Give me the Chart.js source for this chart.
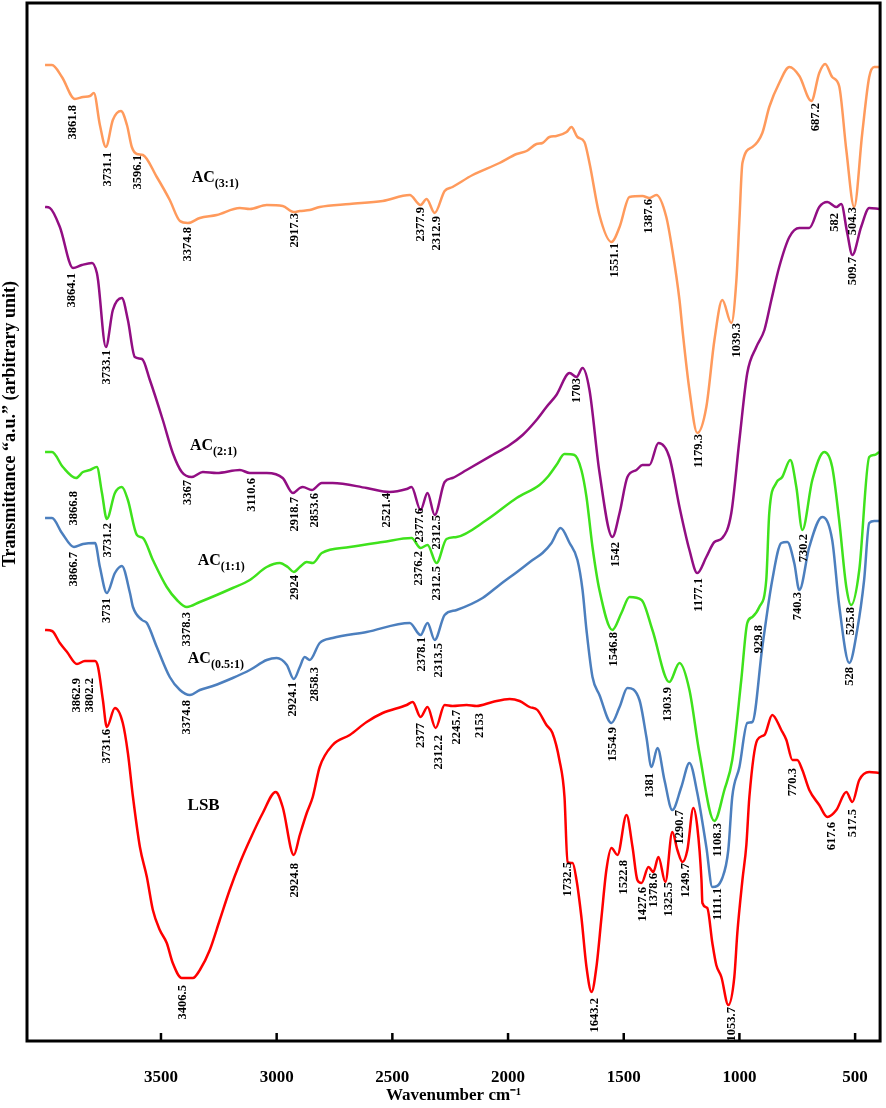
<!DOCTYPE html>
<html><head><meta charset="utf-8">
<script src="https://cdn.jsdelivr.net/npm/chart.js@4.4.0/dist/chart.umd.min.js"></script>
<style>html,body{margin:0;padding:0;background:#fff}canvas{display:block}</style>
</head><body>
<canvas id="c" width="886" height="1108"></canvas>
<script>
// ---- data (wavenumber cm-1, transmittance a.u.) ----
const wnAC31 = [4001,3971,3928,3872,3837,3807,3790,3764,3738,3708,3673,3647,3626,3604,3578,3518,3462,3418,3384,3332,3259,3159,3116,3043,2974,2926,2900,2857,2814,2684,2542,2425,2378,2352,2317,2274,2240,2153,2037,1963,1920,1877,1851,1821,1791,1747,1726,1700,1670,1648,1605,1553,1518,1475,1419,1389,1359,1316,1290,1259,1246,1216,1182,1143,1108,1074,1035,1013,1000,987,944,901,871,828,784,741,689,655,629,599,569,538,504,469,439,417,396];
const tAC31  = [97.7,97.7,96.5,94.3,94.5,94.6,94.9,91.7,89.5,92.2,93.1,91.7,89.5,88.8,88.7,86.5,84.2,82.1,81.9,82.4,82.7,83.4,83.3,83.7,83.6,83.0,83.1,83.2,83.5,83.8,84.1,84.7,83.7,84.3,82.9,85.1,85.5,86.7,87.9,88.8,89.1,89.8,89.9,90.5,90.6,91.0,91.5,90.5,90.0,87.9,82.7,80.0,81.5,84.5,84.6,84.4,84.7,82.5,79.2,74.2,71.2,65.2,60.9,63.5,70.2,74.2,71.9,76.2,82.2,87.9,89.5,90.9,93.5,95.9,97.5,96.6,94.1,96.9,97.8,96.5,95.6,89.2,83.5,90.9,96.5,97.5,97.5];

const wnAC21 = [4001,3980,3937,3880,3842,3798,3777,3772,3738,3708,3669,3643,3613,3582,3548,3492,3449,3410,3367,3319,3259,3159,3116,3043,2974,2930,2900,2887,2848,2805,2758,2611,2512,2438,2417,2378,2348,2317,2274,2240,2179,2067,1993,1937,1877,1834,1791,1734,1704,1678,1648,1605,1549,1518,1484,1445,1419,1389,1350,1303,1259,1216,1182,1143,1108,1074,1035,1000,966,927,892,862,828,784,741,698,655,620,581,560,534,512,474,439,396];
const tAC21  = [83.5,83.4,81.5,77.4,77.7,77.9,76.9,76.2,69.5,73.2,74.4,72.2,68.5,68.3,66.2,62.2,58.9,57.0,56.5,57.0,56.9,57.2,56.9,56.9,56.4,54.9,55.4,55.5,55.2,55.9,55.9,55.4,55.0,55.3,55.5,53.2,54.9,52.7,56.0,56.4,57.2,58.7,59.7,60.7,62.2,63.5,64.7,66.9,66.5,67.4,65.2,57.0,50.5,52.9,56.5,57.2,57.7,57.7,59.9,58.5,53.5,49.2,46.9,48.5,50.0,50.4,52.9,60.2,66.9,69.5,71.2,74.2,77.5,80.5,81.4,81.4,83.5,84.0,83.5,83.8,80.9,78.7,81.5,83.4,83.3];

const wnAC11 = [4001,3971,3924,3867,3837,3807,3777,3755,3734,3699,3669,3643,3604,3578,3535,3475,3431,3388,3332,3259,3190,3116,3043,2987,2952,2926,2900,2870,2844,2805,2684,2542,2417,2378,2348,2309,2266,2222,2093,1963,1864,1829,1791,1756,1713,1683,1661,1635,1605,1549,1510,1475,1423,1376,1303,1259,1216,1173,1108,1065,1031,992,966,944,914,884,871,841,815,780,754,728,685,633,599,569,538,517,482,439,417,396];
const tAC11  = [59.0,59.0,57.5,56.4,57.0,57.2,57.5,54.9,52.3,54.9,55.5,54.2,50.7,50.4,48.2,45.5,44.2,43.5,44.0,44.7,45.4,46.2,47.5,47.9,47.5,47.0,47.5,48.0,47.9,48.9,49.5,50.0,50.4,49.4,49.7,47.9,50.3,50.5,52.2,54.4,55.7,56.5,57.7,58.8,58.7,57.2,54.5,49.5,45.2,41.2,42.9,44.5,44.2,41.2,36.0,37.9,35.2,28.9,22.1,25.2,28.2,36.2,41.9,42.5,43.5,46.2,52.9,55.9,56.5,58.2,55.5,51.2,56.2,59.0,57.5,52.2,45.5,43.7,47.2,58.5,58.7,59.0];

const wnAC051 = [4001,3971,3928,3876,3837,3785,3764,3734,3699,3669,3634,3621,3582,3561,3518,3462,3418,3375,3332,3276,3190,3116,3043,3000,2956,2926,2900,2879,2857,2814,2758,2611,2425,2378,2348,2317,2274,2222,2110,2037,1950,1894,1851,1812,1773,1734,1700,1678,1661,1635,1605,1553,1518,1484,1432,1402,1380,1354,1324,1290,1251,1216,1182,1143,1117,1074,1048,1031,1000,966,944,901,858,819,793,763,741,698,642,599,569,525,491,461,439,417,396];
const tAC051  = [52.4,52.4,50.9,49.5,49.8,49.9,47.5,44.9,46.9,47.6,44.9,43.5,42.2,41.9,39.5,36.5,35.2,34.7,35.2,35.6,36.4,37.2,38.2,38.4,37.7,36.3,37.5,38.5,38.2,39.9,40.4,41.0,41.9,40.7,41.9,40.2,42.7,43.2,44.4,45.7,47.2,48.2,48.9,49.9,51.4,49.9,48.2,45.2,41.2,36.5,34.7,31.9,33.5,35.4,34.2,30.5,27.5,29.4,26.2,23.2,25.5,27.9,24.9,19.5,15.5,16.4,19.2,24.5,27.5,31.9,32.0,39.5,46.2,49.9,50.0,47.9,45.2,49.5,52.5,50.2,43.7,37.9,41.2,46.2,51.9,52.1,52.1];

const wnLSB = [4001,3971,3937,3906,3863,3829,3785,3772,3751,3734,3699,3665,3643,3621,3591,3561,3535,3505,3475,3449,3410,3362,3332,3289,3246,3203,3159,3116,3060,3004,2974,2926,2900,2870,2844,2814,2758,2684,2611,2542,2438,2412,2378,2348,2313,2274,2240,2179,2136,2067,1993,1950,1907,1873,1834,1808,1778,1756,1743,1721,1704,1683,1661,1639,1618,1596,1575,1553,1527,1488,1462,1441,1423,1393,1372,1350,1320,1290,1268,1246,1225,1199,1182,1164,1160,1139,1117,1100,1078,1048,1022,1009,987,970,957,923,892,858,819,797,771,750,728,698,655,620,581,538,512,482,439,396];
const tLSB  = [41.2,41.1,39.9,39.0,37.8,38.1,38.1,37.5,34.2,31.5,33.4,31.9,28.9,24.5,19.5,16.5,13.2,11.2,9.9,7.9,6.4,6.4,7.2,9.2,12.2,15.2,17.9,20.2,22.9,25.0,23.5,18.7,20.7,22.9,24.5,27.5,29.7,30.7,32.0,32.9,33.7,34.0,32.5,33.5,31.4,33.7,33.6,33.7,33.6,34.0,34.3,34.1,33.5,33.2,31.7,30.9,28.2,24.5,18.0,17.9,16.2,12.5,7.5,5.0,7.5,12.5,17.2,19.4,18.7,22.7,19.5,16.2,15.9,17.5,17.0,18.5,16.0,21.0,19.2,18.0,19.2,23.4,21.5,16.2,13.9,13.4,9.9,7.7,6.5,3.7,6.5,10.9,16.2,19.7,24.5,30.2,30.7,32.7,31.2,30.2,28.2,28.2,27.2,25.2,23.7,22.5,23.2,25.0,24.0,26.2,27.0,26.9];

const xTicks = [3500,3000,2500,2000,1500,1000,500];

// peak annotations: [text, wavenumber, top of label (a.u.)]
const peaksAC31 = [["3861.8",3880,93.7],["3731.1",3729,89.0],["3596.1",3600,88.7],["3374.8",3384,81.5],["2917.3",2922,82.9],["2377.9",2378,83.5],["2312.9",2309,82.6],["1551.1",1540,79.9],["1387.6",1393,84.3],["1179.3",1177,60.8],["1039.3",1013,71.9],["687.2",672,93.9],["504.3",508,83.5]];
const peaksAC21 = [["582",590,82.9],["509.7",508,78.5],["3864.1",3885,76.9],["3733.1",3734,69.2],["3367",3384,56.2],["3110.6",3108,56.4],["2918.7",2922,54.5],["2853.6",2835,54.9],["2521.4",2525,54.9],["2377.6",2382,53.4],["2312.5",2309,52.7],["1703",1704,66.4],["1542",1536,50.0],["1177.1",1177,46.4]];
const peaksAC11 = [["3866.8",3876,55.1],["3731.2",3729,51.9],["3378.3",3388,43.0],["2924",2922,46.7],["2376.2",2386,49.1],["2312.5",2309,47.6],["1546.8",1544,41.0],["1303.9",1311,35.5],["1108.3",1095,21.9],["929.8",918,41.7],["730.2",724,50.8],["525.8",517,43.5]];
const peaksAC051 = [["3866.7",3876,49.0],["3731",3734,44.4],["3374.8",3388,34.2],["2924.1",2930,36.0],["2858.3",2835,37.5],["2378.1",2373,40.5],["2313.5",2300,39.9],["1554.9",1549,31.5],["1381",1389,26.9],["1290.7",1259,23.2],["1111.1",1095,15.4],["740.3",746,45.0],["528",521,37.5]];
const peaksLSB = [["3862.9",3863,36.4],["3802.2",3807,36.4],["3731.6",3734,31.3],["3406.5",3405,5.7],["2924.8",2922,17.9],["2377",2378,31.9],["2312.2",2300,30.7],["2245.7",2222,33.2],["2153",2123,32.9],["1732.5",1743,18.0],["1643.2",1626,4.4],["1522.8",1501,18.2],["1427.6",1419,15.5],["1378.6",1372,16.9],["1325.5",1307,16.0],["1249.7",1234,17.9],["1053.7",1035,3.5],["770.3",771,27.4],["617.6",599,22.0],["517.5",508,23.3]];

// series name labels: [main, subscript, wavenumber (left), a.u. (baseline)]
const seriesNames = [["AC","(3:1)",3367,86.0],["AC","(2:1)",3375,59.2],["AC","(1:1)",3341,47.7],["AC","(0.5:1)",3384,37.9],["LSB","",3385,23.2]];

const SERIF = '"Liberation Serif","Times New Roman",serif';
const series = [
  {name:'AC(3:1)', wn:wnAC31, t:tAC31, color:'#FF9A5C'},
  {name:'AC(2:1)', wn:wnAC21, t:tAC21, color:'#920E83'},
  {name:'AC(1:1)', wn:wnAC11, t:tAC11, color:'#3FE21C'},
  {name:'AC(0.5:1)', wn:wnAC051, t:tAC051, color:'#4C7FBE'},
  {name:'LSB', wn:wnLSB, t:tLSB, color:'#FF0000'}
];
const allPeaks = [].concat(peaksAC31, peaksAC21, peaksAC11, peaksAC051, peaksLSB);

const decor = {
  id:'decor',
  afterDraw(chart){
    const {ctx, chartArea:a, scales:{x,y}} = chart;
    ctx.save();
    ctx.fillStyle = '#000';
    ctx.font = 'bold 12.5px ' + SERIF;
    ctx.textAlign = 'right'; ctx.textBaseline = 'middle';
    for (const [txt, wn, top] of allPeaks) {
      const px = x.getPixelForValue(wn), py = y.getPixelForValue(top);
      ctx.save(); ctx.translate(px, py); ctx.rotate(-Math.PI/2); ctx.fillText(txt, 0, 0); ctx.restore();
    }
    ctx.textAlign = 'left'; ctx.textBaseline = 'alphabetic';
    for (const [main, sub, wn, t] of seriesNames) {
      const px = x.getPixelForValue(wn), py = y.getPixelForValue(t);
      ctx.font = 'bold ' + (sub ? 16 : 17) + 'px ' + SERIF;
      ctx.fillText(main, px, py);
      const w = ctx.measureText(main).width;
      if (sub) { ctx.font = 'bold 12px ' + SERIF; ctx.fillText(sub, px + w, py + 5); }
    }
    ctx.strokeStyle = '#000'; ctx.lineWidth = 3;
    ctx.strokeRect(a.left, a.top, a.right - a.left, a.bottom - a.top);
    ctx.lineWidth = 2.5;
    for (const t of x.ticks) {
      const px = x.getPixelForValue(t.value);
      ctx.beginPath(); ctx.moveTo(px, a.bottom); ctx.lineTo(px, a.bottom - 8); ctx.stroke();
    }
    ctx.save();
    ctx.translate(10, 424); ctx.rotate(-Math.PI/2);
    ctx.textAlign = 'center'; ctx.textBaseline = 'middle';
    ctx.font = 'bold 18px ' + SERIF;
    ctx.fillText('Transmittance \u201Ca.u.\u201D (arbitrary unit)', 0, 0);
    ctx.restore();
    ctx.restore();
  }
};

new Chart(document.getElementById('c'), {
  type:'line',
  data:{datasets: series.map(s => ({
    label:s.name,
    data:s.wn.map((w,i) => ({x:w, y:s.t[i]})),
    borderColor:s.color, borderWidth:2.5, pointRadius:0,
    tension:0.4, cubicInterpolationMode:'monotone', fill:false
  }))},
  options:{
    responsive:false, animation:false, devicePixelRatio:1,
    layout:{padding:{top:3, right:5, left:0, bottom:0}},
    plugins:{legend:{display:false}, tooltip:{enabled:false}},
    scales:{
      x:{type:'linear', reverse:true, min:392, max:4079,
        grid:{display:false}, border:{display:false},
        ticks:{autoSkip:false, maxRotation:0, padding:18, color:'#000',
          font:{family:SERIF, weight:'bold', size:17}, callback:v => String(v)},
        afterBuildTicks:s => { s.ticks = xTicks.map(v => ({value:v})); },
        afterFit:s => { s.height = 67; },
        title:{display:true, text:'Wavenumber cm\u207B\u00B9', color:'#000',
          font:{family:SERIF, weight:'bold', size:17}, padding:{top:0, bottom:2}}
      },
      y:{type:'linear', min:0.1, max:103.9, display:true,
        grid:{display:false}, border:{display:false}, ticks:{display:false},
        afterFit:s => { s.width = 27; }}
    }
  },
  plugins:[decor]
});
</script>
</body></html>
